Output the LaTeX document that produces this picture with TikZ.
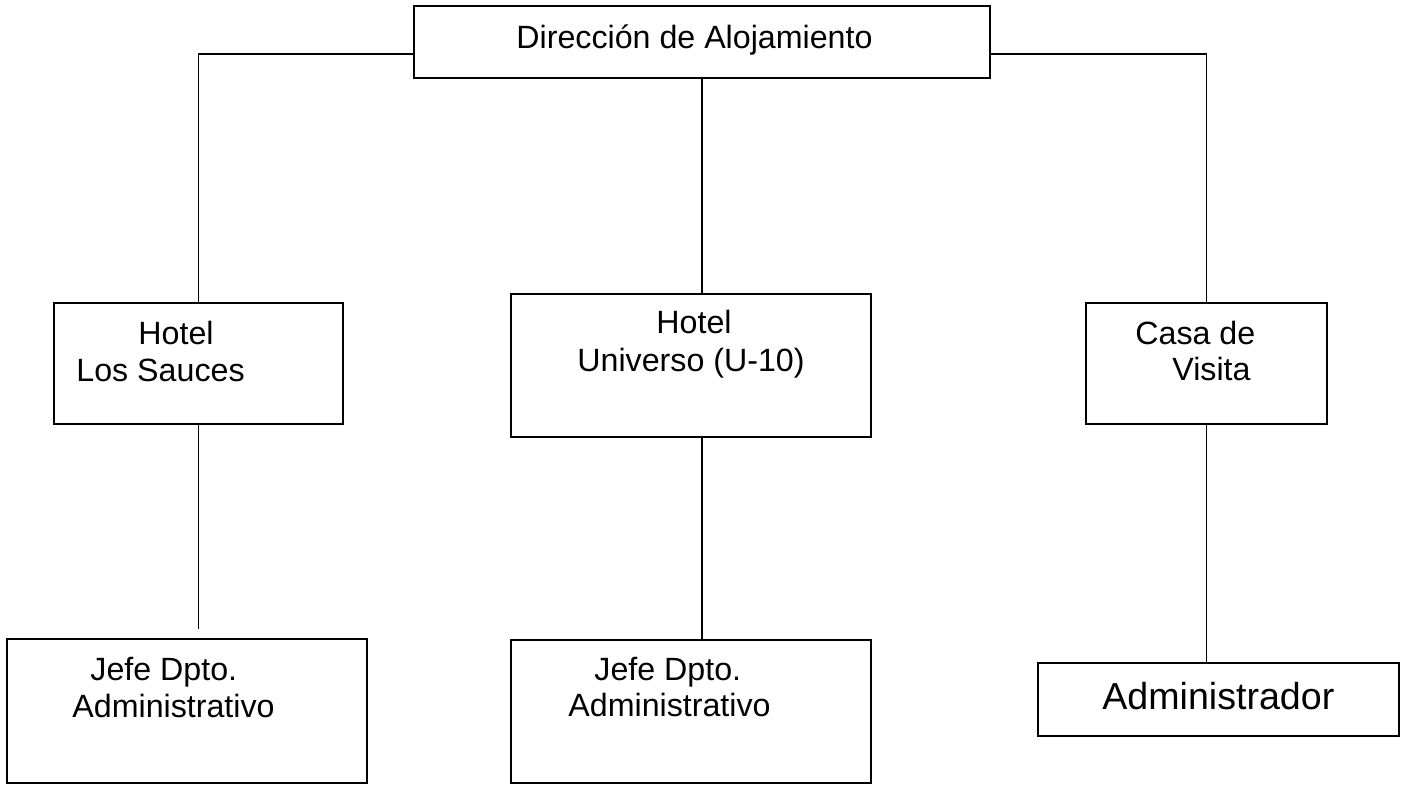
\documentclass[tikz,border=0pt]{standalone}
\usepackage{fontspec}
\setmainfont{Liberation Sans}
\begin{document}
\begin{tikzpicture}[x=0.5pt,y=-0.5pt,
  box/.style={draw,line width=0.8pt,inner sep=0pt,rectangle},
  link/.style={draw,line width=0.8pt},
  txt/.style={anchor=base west,inner sep=0pt,font=\fontsize{16.1}{19}\selectfont},
  bigtxt/.style={anchor=base west,inner sep=0pt,font=\fontsize{18.8}{22}\selectfont}]
\useasboundingbox (0,0) rectangle (1404,784);
% boxes
\node[box,minimum width=288pt,minimum height=36pt] (top) at (702,42) {};
\node[box,minimum width=144.5pt,minimum height=60.5pt] (L1) at (198.5,363.5) {};
\node[box,minimum width=180pt,minimum height=71.5pt] (M1) at (691,365.5) {};
\node[box,minimum width=120.5pt,minimum height=60.5pt] (R1) at (1206.5,363.5) {};
\node[box,minimum width=180pt,minimum height=72pt] (L2) at (187,711) {};
\node[box,minimum width=180pt,minimum height=71.5pt] (M2) at (691,711.5) {};
\node[box,minimum width=180.5pt,minimum height=36.5pt] (R2) at (1218.5,699.5) {};
% texts
\node[txt] (tTop) at (516,48) {Dirección de Alojamiento};
\node[txt] (tL1a) at (138,344) {Hotel};
\node[txt] (tL1b) at (76,381) {Los Sauces};
\node[txt] (tM1a) at (656,333) {Hotel};
\node[txt] (tM1b) at (577,371) {Universo (U-10)};
\node[txt] (tR1a) at (1135,344) {Casa de};
\node[txt] (tR1b) at (1172,380) {Visita};
\node[txt] (tL2a) at (90,680) {Jefe Dpto.};
\node[txt] (tL2b) at (72,717) {Administrativo};
\node[txt] (tM2a) at (594,680) {Jefe Dpto.};
\node[txt] (tM2b) at (568,716) {Administrativo};
\node[bigtxt] (tR2) at (1102,709) {Administrador};
% connectors
\draw[link] ([yshift=-6pt]top.west) -| (L1.north);
\draw[link] ([yshift=-6pt]top.east) -| (R1.north);
\draw[link] (top.south) -- (top.south |- M1.north);
\draw[link,shorten >=4.5pt] (L1.south) -- (L1.south |- L2.north);
\draw[link] (top.south |- M1.south) -- (top.south |- M2.north);
\draw[link] (R1.south) -- (R1.south |- R2.north);
\end{tikzpicture}
\end{document}
